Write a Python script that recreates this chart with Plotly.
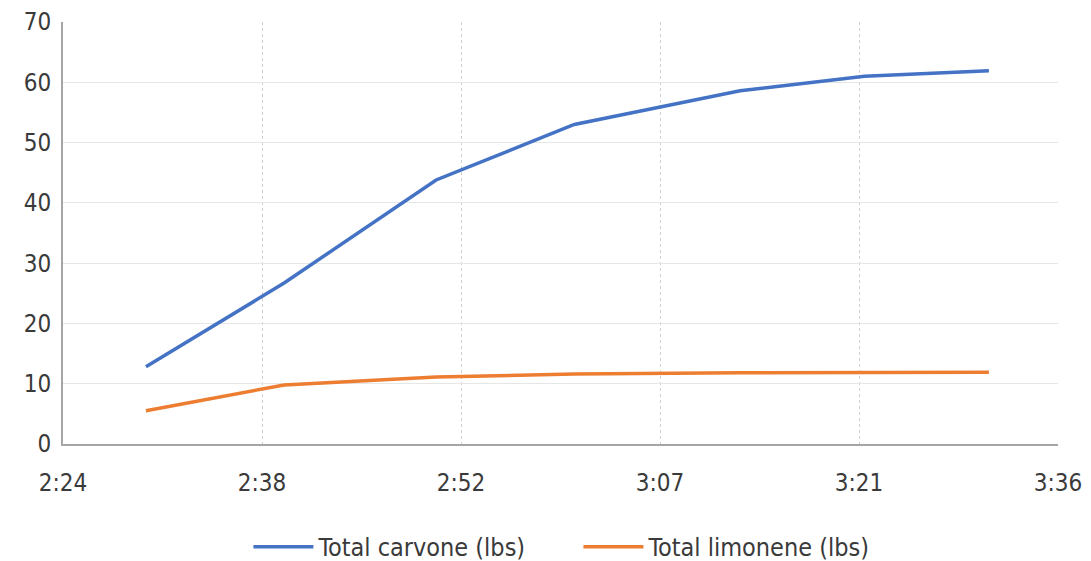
import plotly.graph_objects as go

# Sample times (hh:mm) and cumulative totals
times = ["02:30", "02:40", "02:51", "03:01", "03:13", "03:22", "03:31"]
carvone = [12.8, 26.7, 43.8, 53.0, 58.6, 61.0, 61.9]
limonene = [5.5, 9.8, 11.1, 11.6, 11.8, 11.8, 11.9]

tick_times = ["02:24:00", "02:38:24", "02:52:48", "03:07:12", "03:21:36", "03:36:00"]
tick_labels = ["2:24", "2:38", "2:52", "3:07", "3:21", "3:36"]
y_ticks = [0, 10, 20, 30, 40, 50, 60, 70]

day = "2024-01-01 "
x = [day + t for t in times]

font_family = "DejaVu Sans Condensed, Liberation Sans Narrow, sans-serif"
text_color = "#3a3a3a"

fig = go.Figure()
fig.add_trace(go.Scatter(
    x=x, y=carvone, mode="lines", name="Total carvone (lbs)",
    line=dict(color="#4472C4", width=3.5),
))
fig.add_trace(go.Scatter(
    x=x, y=limonene, mode="lines", name="Total limonene (lbs)",
    line=dict(color="#ED7D31", width=3.5),
))

fig.update_layout(
    width=1091, height=561,
    margin=dict(l=63, r=33, t=22, b=117),
    paper_bgcolor="white", plot_bgcolor="white",
    font=dict(family=font_family, size=24, color=text_color),
    showlegend=True,
    legend=dict(
        orientation="h", x=0.518, xanchor="center",
        yref="container", y=0.025, yanchor="middle",
        font=dict(size=25, color=text_color), itemwidth=60,
        entrywidth=255,
        traceorder="normal",
    ),
)

fig.update_xaxes(
    type="date",
    range=[day + tick_times[0], day + tick_times[-1]],
    tickvals=[day + t for t in tick_times],
    ticktext=tick_labels,
    showgrid=True, gridcolor="#cfcfcf", gridwidth=1, griddash="dot",
    showline=True, linecolor="#a6a6a6", linewidth=2,
    ticks="", ticklabelstandoff=16,
    zeroline=False, automargin=False,
)
fig.update_yaxes(
    range=[0, 70],
    tickvals=y_ticks,
    showgrid=True, gridcolor="#e6e6e6", gridwidth=1,
    showline=True, linecolor="#a6a6a6", linewidth=2,
    ticks="", ticklabelstandoff=5,
    zeroline=False, automargin=False,
)

fig.write_html("out.html")
